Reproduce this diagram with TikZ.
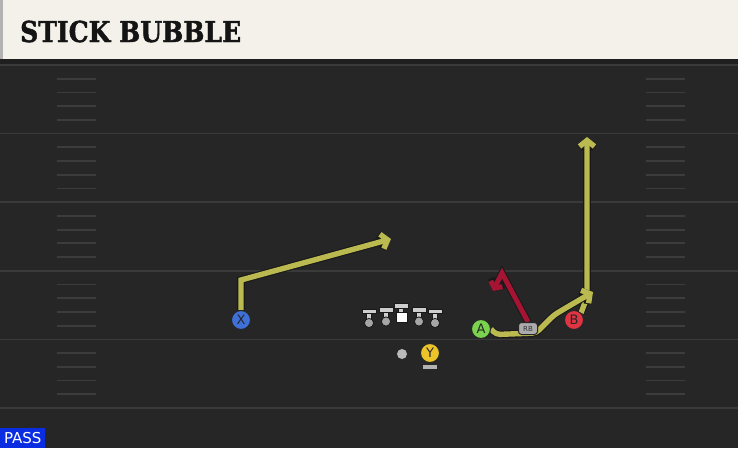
\documentclass[tikz,border=0pt]{standalone}
\usepackage{fontspec}
\usepackage{graphicx}
\setmainfont{DejaVu Sans}
\newfontfamily\titlefont{DejaVu Serif}[BoldFeatures={FakeBold=1.6}]
\usetikzlibrary{arrows.meta,positioning}

\definecolor{fieldbg}{RGB}{38,38,38}
\definecolor{yardline}{RGB}{58,58,58}
\definecolor{hashline}{RGB}{60,60,60}
\definecolor{headerbg}{RGB}{244,241,234}
\definecolor{routeyellow}{RGB}{186,186,80}
\definecolor{routered}{RGB}{165,20,50}
\definecolor{xblue}{RGB}{62,112,215}
\definecolor{agreen}{RGB}{122,210,78}
\definecolor{bred}{RGB}{225,52,66}
\definecolor{yyellow}{RGB}{236,196,42}
\definecolor{passblue}{RGB}{10,45,225}
\definecolor{linegray}{RGB}{205,205,205}

\pgfdeclarelayer{field}
\pgfdeclarelayer{routes}
\pgfsetlayers{field,routes,main}

\begin{document}
\begin{tikzpicture}[x=1pt, y=-1pt,
    % Define styles
    player/.style={circle, draw=black!85, line width=1pt, minimum size=19pt, inner sep=0pt, font=\fontsize{13}{13}\selectfont, text=black!85},
    rbbox/.style={rectangle, rounded corners=3pt, draw=black!85, line width=1pt, fill=gray!65, minimum width=19pt, minimum height=12pt, inner sep=0pt, font=\fontsize{7}{7}\selectfont, text=black!80},
    lineman/.style={draw=black!90, line width=0.8pt, fill=linegray},
    yard/.style={yardline, line width=1.6pt},
    hash/.style={hashline, line width=1.8pt},
    routeedge/.style={line width=7.6pt, black!90, -{Straight Barb[length=6pt, width=15pt]}},
    route/.style={line width=5.4pt, routeyellow, -{Straight Barb[length=6pt, width=15pt]}},
    redroute/.style={line width=5pt, routered, -{Straight Barb[length=5pt, width=13pt]}}
]
\useasboundingbox (0,0) rectangle (738,448);

% Field
\begin{pgfonlayer}{field}
\fill[fieldbg] (0,0) rectangle (738,448);
\foreach \k in {0,...,5}
    \draw[yard] (0,65+68.6*\k) -- (738,65+68.6*\k);
\foreach \k in {0,...,4}
    \foreach \h in {1,...,4} {
        \draw[hash] (57,65+68.6*\k+13.72*\h) -- (96,65+68.6*\k+13.72*\h);
        \draw[hash] (646,65+68.6*\k+13.72*\h) -- (685,65+68.6*\k+13.72*\h);
    }
% Header
\fill[black!88] (0,58) rectangle (738,64);
\fill[headerbg] (0,0) rectangle (738,59);
\fill[gray!60] (0,0) rectangle (3,59);
\end{pgfonlayer}

% Title
\node[anchor=base west, inner sep=0pt, text=black!92, font=\titlefont\bfseries\fontsize{28.8}{29}\selectfont] (title) at (20,42) {\scalebox{0.87}[1]{STICK BUBBLE}};

% Offensive line
\foreach \lx/\ly in {369/309, 386/307.5, 419/307.5, 435/309} {
    \draw[lineman] (\lx-2.3,\ly+3) rectangle (\lx+2.3,\ly+11);
    \draw[lineman, fill=gray!70] (\lx,\ly+14) circle (4.6pt);
    \draw[lineman] (\lx-7,\ly) rectangle (\lx+7,\ly+4.6);
}
\draw[lineman] (398.7,307) rectangle (403.3,313);
\draw[lineman, fill=white] (396,312) rectangle (407,322.5);
\draw[lineman] (394,303.5) rectangle (408,308);

% Players
\node[player, fill=xblue] (X) at (241,320) {X};
\node[player, fill=agreen] (A) at (481,329) {A};
\node[rbbox] (RB) at (528,328.5) {RB};
\node[player, fill=bred] (B) at (574,320) {B};
\node[circle, fill=gray!55, minimum size=10pt, inner sep=0pt] (QB) at (402,354) {};
\node[player, fill=yyellow] (Y) at (430,353) {Y};
\node[rectangle, fill=gray!60, minimum width=14pt, minimum height=4pt, inner sep=0pt, below=2pt of Y] (Ybase) {};

% Route ends
\coordinate (xturn) at (241,280);
\coordinate (xend) at (391,239);
\coordinate (bturn) at (587,297);
\coordinate (bend) at (587,137);
\coordinate (aend) at (593,292);
\coordinate (rbturn) at (502,273);
\coordinate (rbend) at (493,291);

% Routes
\begin{pgfonlayer}{routes}
\draw[routeedge] (X.north) -- (xturn) -- (xend);
\draw[route] (X.north) -- (xturn) -- (xend);
\draw[routeedge] (B.north east) -- (bturn) -- (bend);
\draw[route] (B.north east) -- (bturn) -- (bend);
\draw[routeedge, rounded corners=4pt] (A.east) -- (496,334.5) -- (536,333) -- (554,315) -- (564,309) -- (aend);
\draw[route, rounded corners=4pt] (A.east) -- (496,334.5) -- (536,333) -- (554,315) -- (564,309) -- (aend);
\draw[routeedge, line width=7pt] (RB.north) -- (rbturn) -- (rbend);
\draw[redroute] (RB.north) -- (rbturn) -- (rbend);
\end{pgfonlayer}

% Play type
\node[fill=passblue, text=white, anchor=south west, minimum width=45pt, minimum height=20pt, inner sep=0pt, font=\fontsize{15}{15}\selectfont] (playtype) at (0,448) {PASS};

\end{tikzpicture}
\end{document}
